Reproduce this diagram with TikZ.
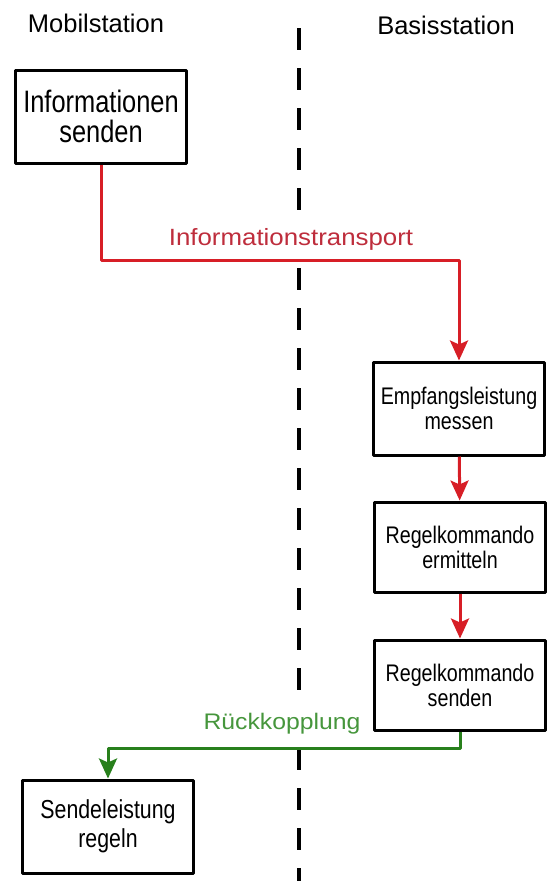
\documentclass[tikz,border=0pt]{standalone}
\usepackage{fontspec}
\setmainfont{Liberation Sans}
\newfontfamily\schmal[FakeStretch=0.82]{Liberation Sans}
\newfontfamily\breit[FakeStretch=1.1]{Liberation Sans}
\usetikzlibrary{arrows.meta}
\definecolor{pfeilrot}{RGB}{215,30,38}
\definecolor{textrot}{RGB}{190,45,60}
\definecolor{pfeilgruen}{RGB}{40,128,28}
\definecolor{textgruen}{RGB}{70,150,60}
\begin{document}
\begin{tikzpicture}[x=1pt, y=-1pt, line join=round, >={Stealth[length=20pt,width=18pt,inset=4pt]},
	kasten/.style={draw, line width=3pt, minimum width=171pt, minimum height=93pt, inner sep=0pt, align=center, font=\schmal\fontsize{24}{25}\selectfont},
	titel/.style={anchor=base, font=\fontsize{25.5}{30}\selectfont},
	beschriftung/.style={anchor=base, fill=white, inner ysep=8pt, font=\breit\fontsize{23.5}{26}\selectfont},
	rotpfeil/.style={->, draw=pfeilrot, line width=3pt},
	gruenpfeil/.style={->, draw=pfeilgruen, line width=3pt}]
	\useasboundingbox (0,0) rectangle (547,881);
	\def\xm{299} \def\yo{28} \def\yu{881}
	% Trennlinie zwischen Mobil- und Basisstation
	\draw[line width=4pt, dash pattern=on 22pt off 18pt] (\xm,\yo) -- (\xm,\yu);
	\node[titel] (mobil) at (96,32) {Mobilstation};
	\node[titel] (basis) at (446,34) {Basisstation};
	% Kaesten
	\node[kasten, font=\schmal\fontsize{31}{30}\selectfont] (senden) at (101,116.5) {Informationen\\senden};
	\node[kasten] (messen) at (459,408.5) {Empfangsleistung\\messen};
	\node[kasten, minimum height=90pt] (ermitteln) at (460,547) {Regelkommando\\ermitteln};
	\node[kasten, minimum height=90pt] (kommando) at (460,685) {Regelkommando\\senden};
	\node[kasten, font=\schmal\fontsize{26}{29}\selectfont] (regeln) at (108,826.5) {Sendeleistung\\regeln};
	% Informationsweg
	\coordinate (hin) at (\xm,260);
	\coordinate (rueck) at (\xm,748);
	\draw[rotpfeil] (senden.south) |- (hin) -| (messen.north);
	\draw[rotpfeil] (messen) -- (ermitteln);
	\draw[rotpfeil] (ermitteln) -- (kommando);
	\draw[gruenpfeil] (kommando.south) |- (rueck) -| (regeln.north);
	\node[beschriftung, text=textrot] (transport) at (291,245) {Informationstransport};
	\node[beschriftung, text=textgruen, font=\breit\fontsize{22.5}{26}\selectfont] (kopplung) at (282,729) {Rückkopplung};
\end{tikzpicture}
\end{document}
